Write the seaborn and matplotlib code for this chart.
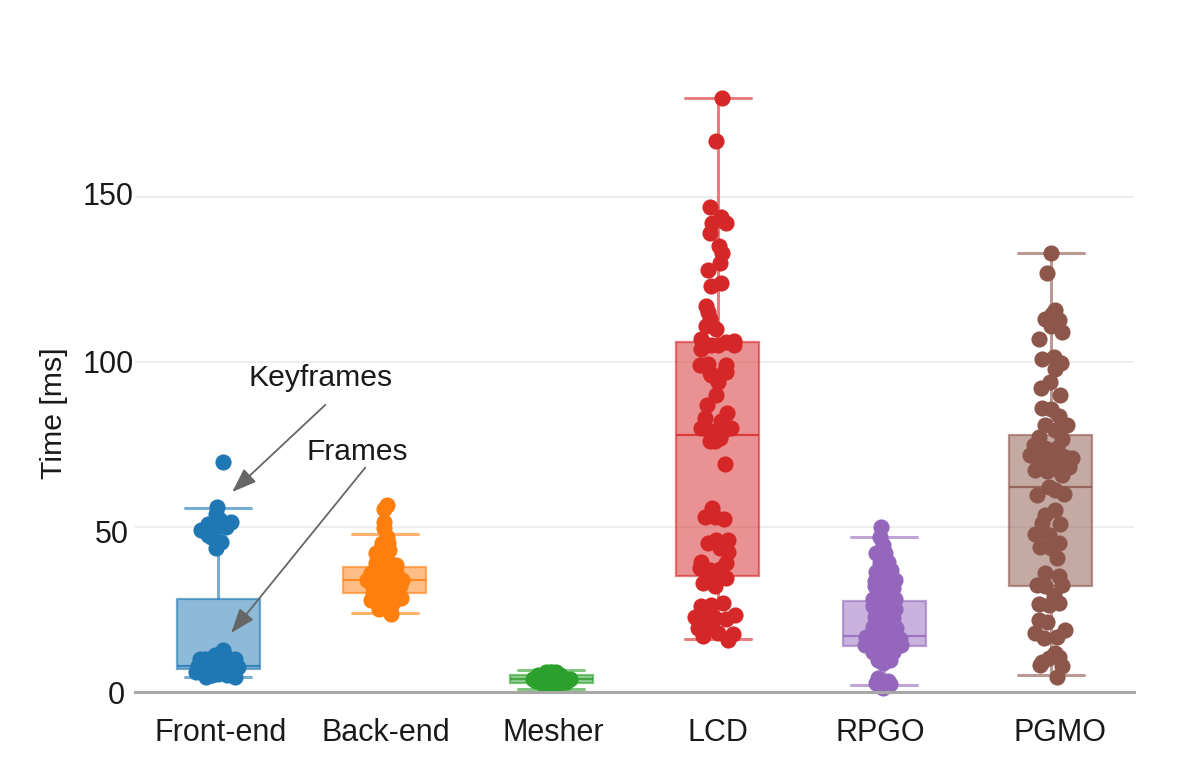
import numpy as np
import pandas as pd
import matplotlib
matplotlib.use("Agg")
import matplotlib.pyplot as plt
from matplotlib.transforms import ScaledTranslation
import seaborn as sns

sns.set_style("white")
plt.rcParams['font.family'] = ['Liberation Sans', 'DejaVu Sans']

categories = ["Front-end", "Back-end", "Mesher", "LCD", "RPGO", "PGMO"]
colors = ["#1f77b4", "#ff7f0e", "#2ca02c", "#d62728", "#9467bd", "#8c564b"]

# low whisker, q1, median, q3, high whisker
box_front = [4.5, 7, 8, 28.2, 55.8]
box_back = [24, 30, 34, 38, 48]
box_mesher = [1, 2.8, 4, 5.3, 6.7]
box_lcd = [16, 35, 78, 106, 180]
box_rpgo = [2, 14, 17, 27.6, 47]
box_pgmo = [5, 32, 62, 78, 133]

front_vals = [69.8, 56, 54, 51.6, 51, 52.2, 49, 49.5, 50, 47.5, 45.6, 43.5, 47, 12.7, 11.2, 10, 10, 10.5, 8, 7.5, 8.5, 8, 4.6, 4.6, 5.5, 6, 6, 7, 8, 9, 6, 9, 9, 7, 7, 5, 5, 10]
front_off = [.028, -.006, -.012, .078, -.062, .008, -.102, -.022, .048, -.062, .018, -.012, -.042, .028, -.022, -.112, .098, .048, -.122, .118, -.042, .038, -.072, .098, 0, -.132, .04, -.03, .08, -.08, -.03, .01, -.05, -.1, .1, -.04, .05, -.08]

back_vals = [56.7, 55.3, 51.6, 47, 49.7, 45, 42, 43, 40.6, 39, 38.5, 34, 34, 35, 31, 28.4, 28, 25, 23.5, 26, 37, 33, 33, 34, 31, 27, 37, 33, 37, 31, 36, 30, 29, 41, 39,
             36, 34, 32, 30, 28, 26, 36, 33, 30, 43, 45, 38, 29]
back_off = [.016, -.004, -.004, .016, -.004, -.014, -.054, .026, -.024, -.054, .066, -.104, .106, .016, -.064, .096, -.084, -.034, .036, .036, -.044, .056, 0, -.044, .036, -.004, -.024, -.084, .036, .076, .006, .006, -.034, .006, .026,
            .07, .08, .09, -.07, .06, .01, -.08, -.06, -.02, -.03, .02, .04, .04]

mesher_vals = [6, 6, 6, 5, 5, 5, 4, 4, 4, 4, 3.8, 3.2, 3.0, 3.0, 2.5, 2.0, 2.0, 2.0, 5.0, 4.0, 3.0, 6.0]
mesher_off = [.005, -.03, .03, -.05, .05, -.08, .08, -.03, -.11, .11, .03, -.09, .09, -.02, -.05, .04, -.03, .02, .02, -.06, .04, -.01]

lcd_vals = [180, 167, 147, 144, 142, 142, 139, 135, 133, 130, 128, 124, 123, 117, 115, 113, 111, 110,
            107, 104, 105, 106.5, 105, 106, 105, 99, 99.5, 99, 96.6, 97, 97, 96, 94, 90, 87, 84.5, 83, 82,
            80, 80, 79, 79, 76, 77, 76, 69, 55.7, 53, 53, 52.5, 45, 46, 46, 42.5, 43.5, 39.5, 37.5, 37, 39,
            37.4, 34.5, 33, 34.5, 32, 27, 26, 26.5, 23.3, 22.6, 23, 22, 22.5, 19.4, 20, 17.5, 17, 15.8, 18]
lcd_off = [.028, -.012, -.044, .022, -.032, .052, -.048, .006, .028, .012, -.058, .018, -.042, -.068, -.058, -.048, -.068, -.012,
           -.098, -.098, 0, .10, .10, .052, -.04, -.108, -.058, .052, -.048, .052, .04, -.04, 0, -.012, -.064, .056, -.078, .02,
           -.098, .082, -.04, .032, -.048, .012, -.018, .042, -.032, -.078, -.018, .038, -.058, -.008, .062, .062, .012, -.098, -.108, -.048, .052,
           .012, .052, -.088, -.04, -.018, .032, -.098, -.04, .102, -.138, -.078, .052, -.018, -.118, -.048, .092, -.088, .062, 0]

rpgo_vals = [50, 47, 44.5, 42, 42, 39.5, 39, 37, 36.5, 34, 33.5, 35, 31.4, 32, 28.3, 28.3, 29, 26, 25.2, 25,
             22.8, 22.3, 21, 19.8, 19.3, 18, 16.8, 16.2, 14.2, 14.2, 17, 12, 12, 13, 9.7, 9.7, 8.7,
             4.2, 3.2, 1.7, 2.4, 1.1, 2.8,
             39, 36, 33, 30, 27, 24, 21, 18, 15, 16, 18, 13, 15, 11]
rpgo_off = [-.022, -.028, -.008, -.048, .002, .022, -.028, .042, -.048, .062, -.058, .002, .052, -.058, -.068, .062, .002, -.068, .062, -.008,
            -.058, .052, .012, -.068, .072, -.008, -.108, .092, -.118, .102, -.018, -.068, .052, -.008, -.038, .032, -.008,
            -.038, .022, -.028, .032, -.008, -.048,
            -.01, .01, .02, .02, .01, .03, -.03, .04, -.06, .05, -.06, .04, .06, .01]

pgmo_vals = [133, 127, 115.8, 113, 112.7, 114.5, 111, 109, 107, 101, 101.6, 99.6, 98, 94, 92, 90, 86, 85.8, 83.5, 81, 81, 79.3, 77.3, 76.8,
             74.8, 74, 74, 71.8, 70.8, 71.2, 71.2, 70, 67.3, 68.3, 65.8, 67, 68, 59.7, 62, 60, 61.2, 55, 53.7, 51, 51.2, 47.9, 47.6,
             45, 44, 43.5, 40.5, 36, 35, 32.4, 32.4, 32, 29.4, 26.7, 26.4, 27, 21.8, 21.3, 18.8, 17.8, 16.8, 16.3, 11.8, 10.3, 8.2, 7.8, 4.5, 9, 10.5]
pgmo_off = [0, -.022, .028, -.032, .048, .008, 0, .068, -.068, -.052, .018, .062, .028, -.006, -.058, .058, -.052, 0, .048, .098, -.032, .028, -.072, .068,
            -.102, -.032, .038, -.122, .128, .088, -.062, .008, -.092, .108, .068, -.022, .028, -.082, -.012, .082, .028, .028, -.032, .058, -.052, -.092, -.012,
            .048, -.062, 0, .038, -.032, .048, -.082, .068, -.032, .018, -.072, -.012, .048, -.072, -.022, .088, -.092, .038, -.042, .028, -.012, -.062, .068, .038, -.052, .048]

box_values = [box_front, box_back, box_mesher, box_lcd, box_rpgo, box_pgmo]
point_values = [front_vals, back_vals, mesher_vals, lcd_vals, rpgo_vals, pgmo_vals]
point_offsets = [front_off, back_off, mesher_off, lcd_off, rpgo_off, pgmo_off]

fig = plt.figure(figsize=(11.96, 7.83), dpi=100)
W, H = 1196, 783
ax = fig.add_axes([135 / W, 1 - 692 / H, 999 / W, 632 / H])

box_df = pd.DataFrame([(c, v) for c, vs in zip(categories, box_values) for v in vs], columns=["stage", "time"])
sns.boxplot(data=box_df, x="stage", y="time", hue="stage", palette=colors, order=categories,
            whis=np.inf, width=0.5, saturation=1, legend=False, ax=ax, zorder=3,
            linewidth=2, fliersize=0)

for patch, col in zip(ax.patches, colors):
    patch.set_facecolor(matplotlib.colors.to_rgba(col, 0.5))
    patch.set_edgecolor(matplotlib.colors.to_rgba(col, 0.6))
    patch.set_linewidth(1.6)
for cont, col in zip(ax.containers, colors):
    for line in list(cont.whiskers) + list(cont.caps):
        line.set_color(col)
        line.set_alpha(0.6)
        line.set_linewidth(2.2)
    for cap in cont.caps:
        xd = cap.get_xdata()
        mid = sum(xd) / 2
        cap.set_xdata([mid - 0.198, mid + 0.198])
    for line in cont.medians:
        line.set_color(col)
        line.set_alpha(0.8)
        line.set_linewidth(1.6)

for i, (col, vals, offs) in enumerate(zip(colors, point_values, point_offsets)):
    pts = pd.DataFrame({"pos": [i + o for o in offs], "time": vals})
    sns.scatterplot(data=pts, x="pos", y="time", color=col, s=135, linewidth=0, ax=ax, zorder=4, clip_on=False)

ax.set_xlim(-0.5, 5.5)
ax.set_ylim(0, 191.5)
ax.set_yticks([0, 50, 100, 150])
ax.set_xticks(range(6))
ax.set_xticklabels(categories, fontsize=22, color="#1a1a1a")
ax.tick_params(axis="y", labelsize=22, length=0, pad=1, labelcolor="#1a1a1a")
ax.tick_params(axis="x", length=0, pad=19)
ax.set_xlabel("")
ax.set_ylabel("Time [ms]", fontsize=21.8, color="#1a1a1a")
ax.yaxis.set_label_coords(-0.067, 0.441)
ax.yaxis.grid(True, color="#eeeeee", linewidth=1.5, zorder=0)
ax.set_axisbelow(True)
for side in ["top", "left", "right"]:
    ax.spines[side].set_visible(False)
ax.spines["bottom"].set_color("#a8a8a8")
ax.spines["bottom"].set_linewidth(2.2)
ax.spines["bottom"].set_zorder(5)

# small per-label pixel nudges seen in the reference
for lab, dx, dy in zip(ax.get_yticklabels(), [-9, -5, 0, 0], [0, -5, 0, 3]):
    lab.set_transform(lab.get_transform() + ScaledTranslation(dx / 100, dy / 100, fig.dpi_scale_trans))
for lab, dx in zip(ax.get_xticklabels(), [2, 1, 2, 0, -4, 9]):
    lab.set_transform(lab.get_transform() + ScaledTranslation(dx / 100, 0, fig.dpi_scale_trans))

arrow = dict(arrowstyle="-|>,head_length=1.5,head_width=0.55", color="#666666", lw=1.3, shrinkA=0, shrinkB=0)
ax.annotate("", xy=(0.084, 60.6), xytext=(0.643, 87), arrowprops=arrow, zorder=6)
ax.annotate("", xy=(0.078, 17.9), xytext=(0.883, 68), arrowprops=arrow, zorder=6)
ax.text(0.613, 95.2, "Keyframes", fontsize=21.7, ha="center", va="center", color="#1a1a1a")
ax.text(0.835, 72.7, "Frames", fontsize=21.5, ha="center", va="center", color="#1a1a1a")

fig.savefig("out.png", dpi=100, facecolor="white")
